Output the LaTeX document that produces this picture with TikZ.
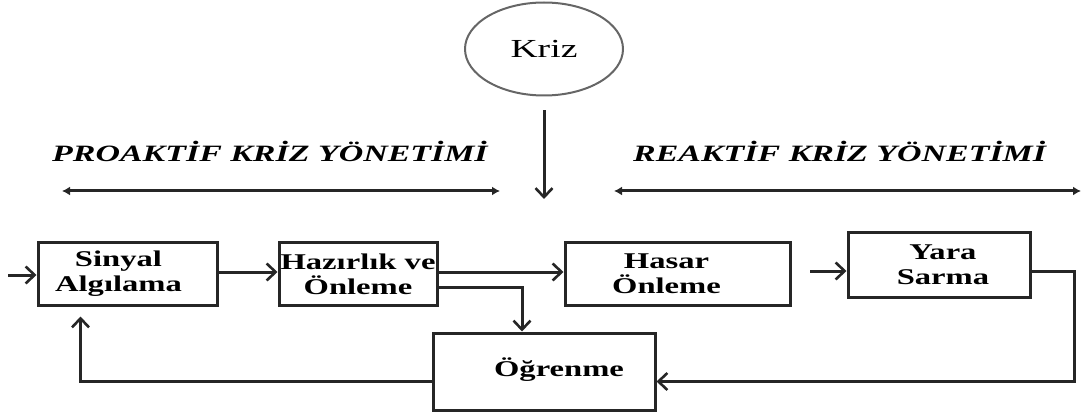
\documentclass[tikz,border=0pt]{standalone}
\usepackage{fontspec}
\setmainfont{Liberation Serif}
\newfontfamily\widefont[FakeStretch=1.45]{Liberation Serif}
\usetikzlibrary{arrows.meta,shapes.geometric}
\begin{document}
\begin{tikzpicture}[x=1pt,y=-1pt,
  ink/.style={draw=black!85,line width=3pt},
  stagebox/.style={ink,rectangle,inner sep=0pt,align=center,
    font=\widefont\bfseries\fontsize{22.5}{25}\selectfont},
  flow/.style={ink,-{Straight Barb[length=9pt,width=17pt,line width=2.6pt]}},
  span/.style={draw=black!85,line width=3pt,{Latex[length=8pt,width=9pt]}-{Latex[length=8pt,width=9pt]}},
  phase/.style={anchor=west,inner sep=0pt,font=\widefont\bfseries\itshape\fontsize{23.4}{27}\selectfont}]
\useasboundingbox (0,0) rectangle (1087,414);

% crisis event
\node[ellipse,draw=black!60,line width=2pt,minimum width=158pt,minimum height=93pt,inner sep=0pt,
  font=\widefont\fontsize{26}{28}\selectfont] (kriz) at (544,49) {\raisebox{-3pt}{Kriz}};
\coordinate (krizhit) at (544,199);
\draw[flow,shorten <=14pt] (kriz) -- (krizhit);

% phase headers and their spans
\node[phase] (pro) at (52,151) {PROAKTİF KRİZ YÖNETİMİ};
\node[phase] (rea) at (633,151) {REAKTİF KRİZ YÖNETİMİ};
\coordinate (proL) at (62,191);
\coordinate (proR) at (500,191);
\coordinate (reaL) at (614,191);
\coordinate (reaR) at (1081,191);
\draw[span] (proL) -- (proR);
\draw[span] (reaL) -- (reaR);

% stages
\node[stagebox,minimum width=179pt,minimum height=62pt] (sinyal) at (127.5,274) {\hspace*{-18pt}Sinyal\\\hspace*{-18pt}Algılama};
\node[stagebox,minimum width=158pt,minimum height=62pt] (hazir) at (358,274) {Hazırlık ve\\Önleme};
\node[stagebox,minimum width=225pt,minimum height=62pt] (hasar) at (677.5,274) {\hspace*{-22pt}Hasar\\\hspace*{-22pt}Önleme};
\node[stagebox,minimum width=182pt,minimum height=64pt] (yara) at (939,265) {\hspace*{8pt}Yara\\\hspace*{8pt}Sarma};
\node[stagebox,minimum width=222pt,minimum height=77pt] (ogren) at (544,371.5) {\hspace*{30pt}\raisebox{9pt}{Öğrenme}};

% flow between stages
\coordinate (entry) at (8,275);
\draw[flow] (entry) -- (sinyal.west |- entry);
\draw[flow] ([yshift=2pt]sinyal.east) -- ([yshift=2pt]hazir.west);
\draw[flow] ([yshift=2pt]hazir.east) -- ([yshift=2pt]hasar.west);
\draw[flow] ([yshift=-13pt]hazir.east) -| ([xshift=-22pt]ogren.north);
\coordinate (hy) at (810,271);
\draw[flow] (hy) -- (hy -| yara.west);
\coordinate (rc) at (1074,300);
\draw[flow] ([yshift=-6pt]yara.east) -| (rc) |- ([yshift=-10pt]ogren.east);
\draw[flow,shorten >=10pt] ([yshift=-10pt]ogren.west) -| ([xshift=-47pt]sinyal.south);
\end{tikzpicture}
\end{document}
